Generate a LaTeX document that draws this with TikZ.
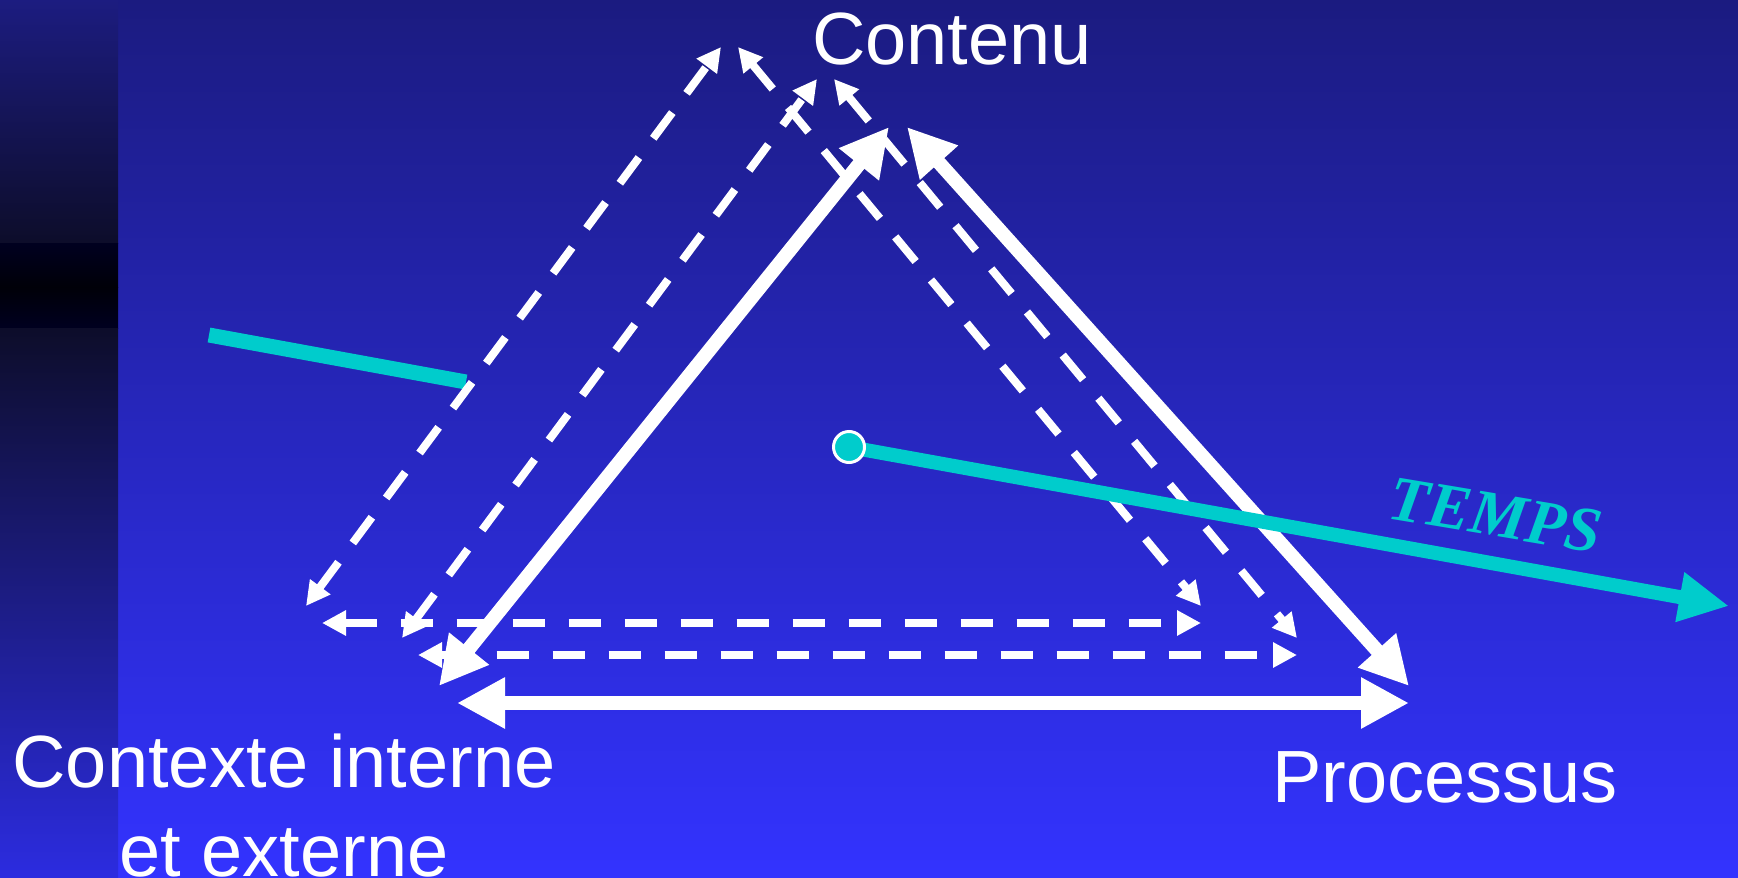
\documentclass[tikz,border=0pt]{standalone}
\usepackage{fontspec}
\setmainfont{Liberation Sans}
\newfontfamily\tempsfont{Liberation Serif}
\usepackage{tikz}
\usetikzlibrary{arrows.meta}
\definecolor{slidetop}{RGB}{27,27,128}
\definecolor{slidebottom}{RGB}{51,51,255}
\definecolor{stripdark}{RGB}{13,13,42}
\definecolor{tempscyan}{RGB}{0,204,204}
\tikzset{
  bigarrow/.style={draw=white, line width=14pt, {Triangle[length=48pt,width=48pt]}-{Triangle[length=48pt,width=48pt]}},
  dasharrow/.style={draw=white, line width=8pt, dash pattern=on 32pt off 24pt, {Triangle[length=24pt,width=24pt]}-{Triangle[length=24pt,width=24pt]}},
  slidelabel/.style={text=white, font=\fontsize{74}{89}\selectfont, inner sep=0pt, align=center},
  tempsline/.style={draw=tempscyan, line width=14pt},
  origindot/.style={circle, fill=tempscyan, draw=white, line width=3pt, minimum size=31pt, inner sep=0pt}
}

\begin{document}
\begin{tikzpicture}[x=1pt, y=-1pt]
  % slide background and left strip
  \shade[top color=slidetop, bottom color=slidebottom] (0,0) rectangle (1738,878);
  \shade[top color={rgb,255:red,28;green,28;blue,128}, bottom color=stripdark] (0,0) rectangle (118,243);
  \shade[top color={rgb,255:red,0;green,0;blue,32}, bottom color={rgb,255:red,0;green,0;blue,8}] (0,243) rectangle (118,287);
  \shade[top color={rgb,255:red,0;green,0;blue,8}, bottom color={rgb,255:red,0;green,0;blue,32}] (0,287) rectangle (118,328);
  \shade[top color=stripdark, bottom color={rgb,255:red,44;green,44;blue,224}] (0,328) rectangle (118,878);
  \useasboundingbox (0,0) rectangle (1738,878);

  % labels
  \node[slidelabel, anchor=base] (contenu) at (952,64) {Contenu};
  \node[slidelabel, anchor=base] (contexte) at (284,876) {Contexte interne\\et externe};
  \node[slidelabel, anchor=base] (processus) at (1445,802) {Processus};
  \node[text=tempscyan, font=\tempsfont\bfseries\itshape\fontsize{64}{64}\selectfont, inner sep=0pt, anchor=base, rotate=-9.5] (temps) at (1492,536) {TEMPS};

  % end points
  \coordinate (entree) at (209,335);
  \coordinate (entreefin) at (466,382);
  \coordinate (solL1) at (439,686);
  \coordinate (solL2) at (889,127);
  \coordinate (solR1) at (907,127);
  \coordinate (solR2) at (1409,686);
  \coordinate (solB1) at (457,703);
  \coordinate (solB2) at (1409,703);
  \coordinate (dAL1) at (306,606);
  \coordinate (dAL2) at (721,47);
  \coordinate (dAR1) at (738,47);
  \coordinate (dAR2) at (1201,606);
  \coordinate (dAB1) at (322,623);
  \coordinate (dAB2) at (1201,623);
  \coordinate (dBL1) at (402,638);
  \coordinate (dBL2) at (817,79);
  \coordinate (dBR1) at (834,79);
  \coordinate (dBR2) at (1297,638);
  \coordinate (dBB1) at (418,655);
  \coordinate (dBB2) at (1297,655);
  \coordinate (debut) at (849,447);
  \coordinate (fin) at (1729,606);

  \draw[draw=tempscyan, line width=15pt] (entree) -- (entreefin);

  % dashed triangles
  \draw[dasharrow] (dAL1) -- (dAL2);
  \draw[dasharrow] (dAR1) -- (dAR2);
  \draw[dasharrow] (dAB1) -- (dAB2);
  \draw[dasharrow] (dBL1) -- (dBL2);
  \draw[dasharrow] (dBR1) -- (dBR2);
  \draw[dasharrow] (dBB1) -- (dBB2);

  % solid triangle
  \draw[bigarrow] (solL1) -- (solL2);
  \draw[bigarrow] (solR1) -- (solR2);
  \draw[bigarrow] (solB1) -- (solB2);

  % time axis
  \draw[tempsline, -{Triangle[length=50pt,width=47pt]}] (debut) -- (fin);
  \node[origindot] (origine) at (debut) {};
\end{tikzpicture}
\end{document}
